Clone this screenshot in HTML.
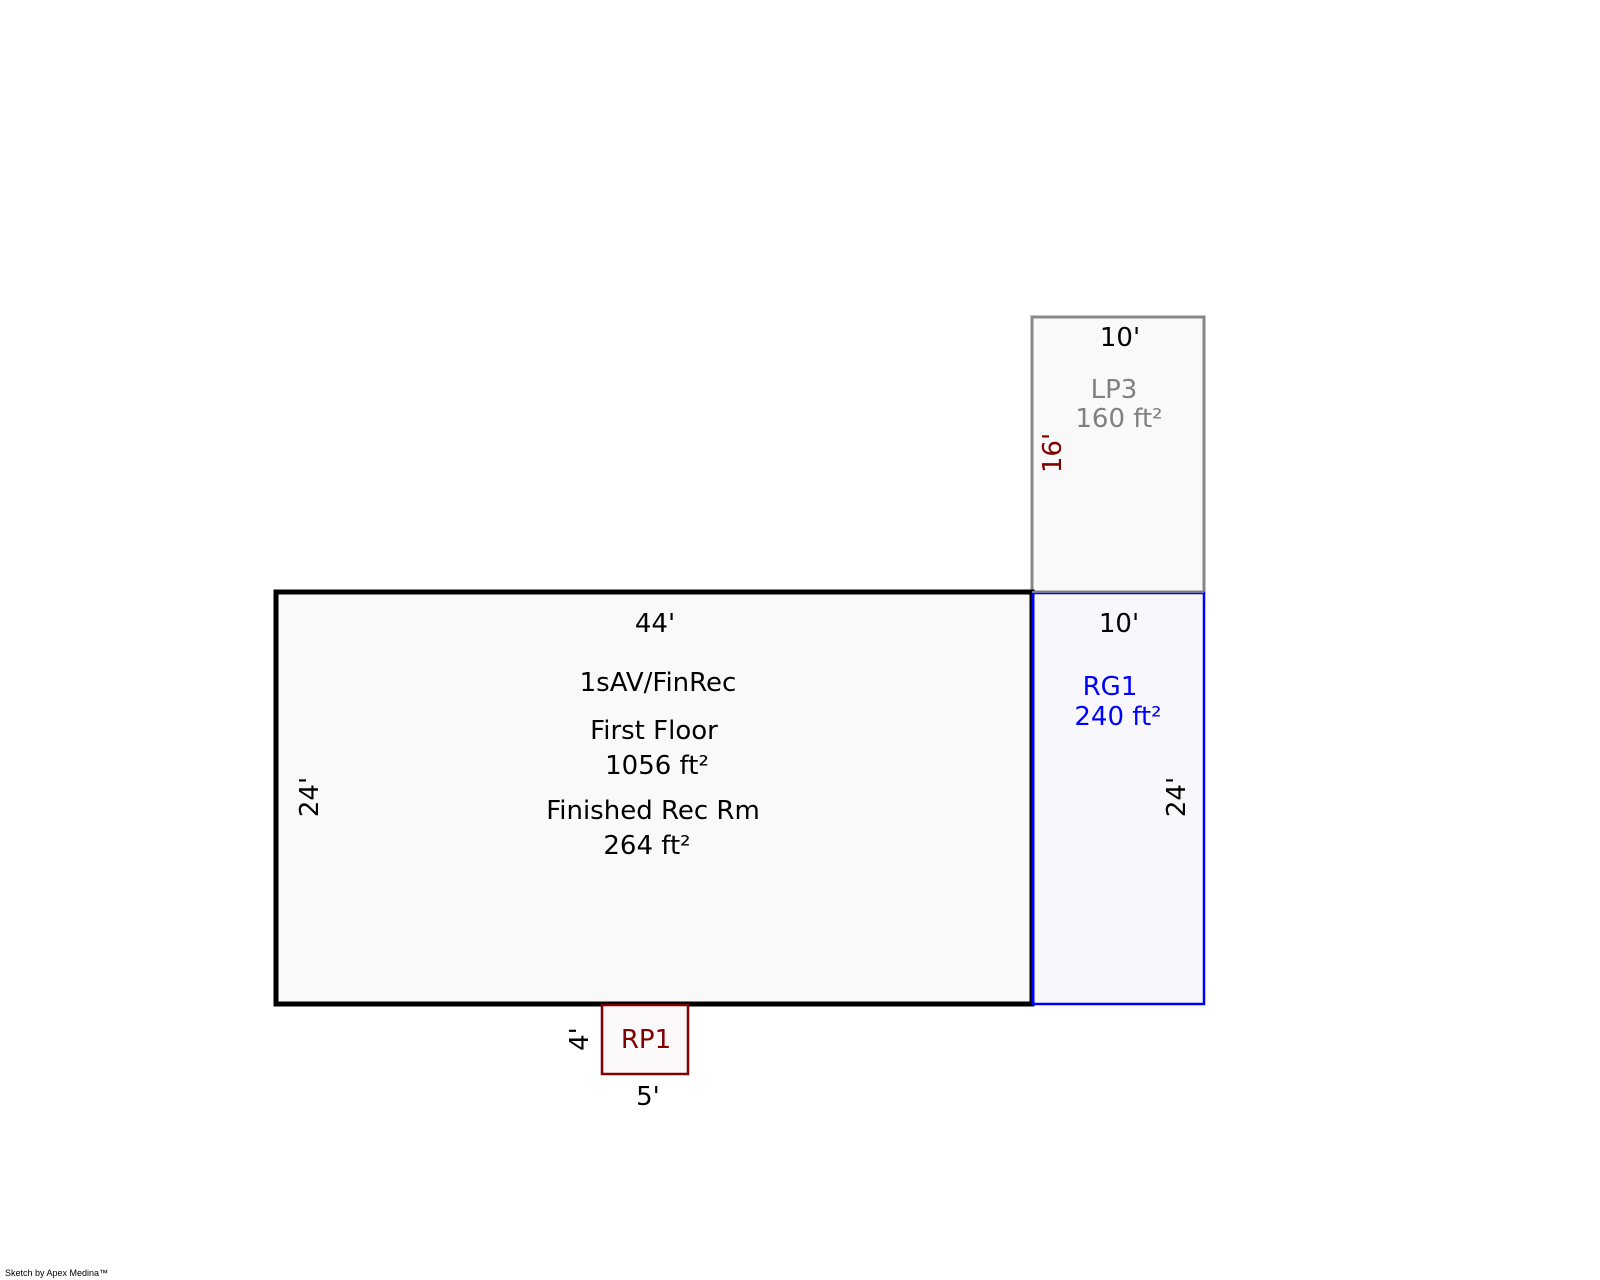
<!DOCTYPE html>
<html><head><meta charset="utf-8"><style>
html,body{margin:0;padding:0;background:#fff;}
svg{display:block;}
text{font-family:"DejaVu Sans","Liberation Sans",sans-serif;font-size:26px;text-anchor:middle;dominant-baseline:central;}
</style></head><body>
<svg width="1600" height="1280" viewBox="0 0 1600 1280" xmlns="http://www.w3.org/2000/svg">
<rect x="1032" y="317" width="172" height="275" fill="#f9f9f9" stroke="#888" stroke-width="3"/>
<rect x="276" y="592" width="756" height="412" fill="#f9f9f9" stroke="#000" stroke-width="5"/>
<rect x="1033" y="593" width="171" height="411" fill="#f8f8fc" stroke="#0000ff" stroke-width="2.5"/>
<line x1="1033" y1="592" x2="1033" y2="1004" stroke="#0000ff" stroke-width="3"/>
<line x1="1032" y1="592" x2="1204" y2="592" stroke="#7777aa" stroke-width="2"/>
<rect x="602" y="1005" width="86" height="69" fill="#fbf9f9" stroke="#800000" stroke-width="2.5"/>

<text x="1120" y="338" fill="#000">10'</text>
<text x="1114" y="390" fill="#808080">LP3</text>
<text x="1119" y="419" fill="#808080">160 ft²</text>
<text x="1053" y="453" fill="#800000" transform="rotate(-90 1053 453)">16'</text>

<text x="1119" y="624" fill="#000">10'</text>
<text x="1110" y="687" fill="#0000ff">RG1</text>
<text x="1118" y="717" fill="#0000ff">240 ft²</text>
<text x="1177" y="797" fill="#000" transform="rotate(-90 1177 797)">24'</text>

<text x="655" y="624" fill="#000">44'</text>
<text x="658" y="683" fill="#000">1sAV/FinRec</text>
<text x="654" y="731" fill="#000">First Floor</text>
<text x="657" y="766" fill="#000">1056 ft²</text>
<text x="653" y="811" fill="#000">Finished Rec Rm</text>
<text x="647" y="846" fill="#000">264 ft²</text>
<text x="310" y="797" fill="#000" transform="rotate(-90 310 797)">24'</text>

<text x="646" y="1040" fill="#800000">RP1</text>
<text x="580" y="1039" fill="#000" transform="rotate(-90 580 1039)">4'</text>
<text x="648" y="1097" fill="#000">5'</text>

<text x="5" y="1273" fill="#000" style="font-size:9px;text-anchor:start;font-family:'Liberation Sans',sans-serif">Sketch by Apex Medina™</text>
</svg>
</body></html>
